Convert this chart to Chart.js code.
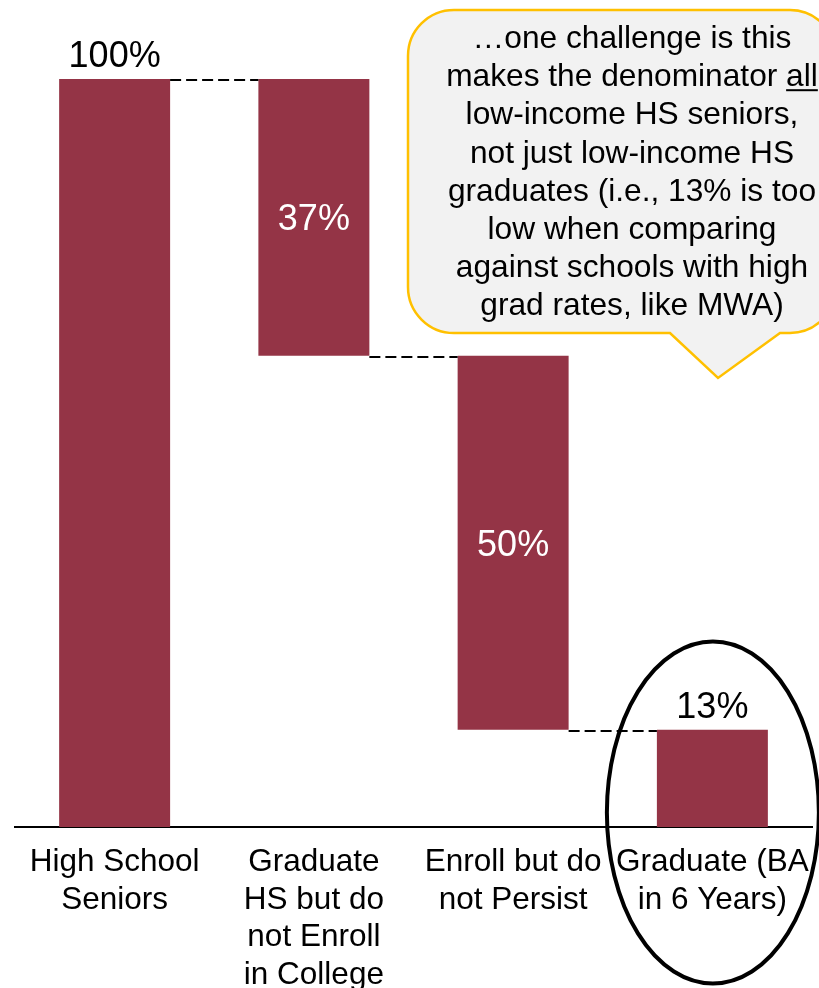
<!DOCTYPE html>
<html lang="en">
<head>
    <meta charset="UTF-8">
    <title>Low-Income Student Pipeline</title>
    <script src="https://cdn.jsdelivr.net/npm/chart.js"></script>
    <style>
        body { margin: 0; background: #fff; }
        #wrap { width: 819px; height: 988px; }
    </style>
</head>
<body>
    <div id="wrap"><canvas id="waterfall" width="819" height="988"></canvas></div>

    <script>
        // pipeline steps
        const categories = [
            ['High School', 'Seniors'],
            ['Graduate', 'HS but do', 'not Enroll', 'in College'],
            ['Enroll but do', 'not Persist'],
            ['Graduate (BA', 'in 6 Years)']
        ];
        const values = [100, 37, 50, 13];
        const kinds = ['total', 'drop', 'drop', 'total'];
        const valueLabels = ['100%', '37%', '50%', '13%'];

        const calloutLines = [
            '\u2026one challenge is this',
            'makes the denominator all',
            'low-income HS seniors,',
            'not just low-income HS',
            'graduates (i.e., 13% is too',
            'low when comparing',
            'against schools with high',
            'grad rates, like MWA)'
        ];

        const FONT = '"Liberation Sans", Arial, sans-serif';
        const BAR = '#943446';

        // floating ranges for the waterfall + the level left after each step
        const ranges = [];
        const levels = [];
        let level = 0;
        values.forEach((v, i) => {
            if (kinds[i] === 'total') {
                ranges.push([0, v]);
                level = v;
            } else {
                ranges.push([level - v, level]);
                level -= v;
            }
            levels.push(level);
        });

        const extras = {
            id: 'extras',
            afterDatasetsDraw(chart) {
                const ctx = chart.ctx;
                const y = chart.scales.y;
                const bars = chart.getDatasetMeta(0).data;

                ctx.save();

                // dashed connectors between bars
                ctx.strokeStyle = '#000';
                ctx.lineWidth = 2;
                ctx.setLineDash([11, 5]);
                for (let i = 0; i < bars.length - 1; i++) {
                    const yy = Math.round(y.getPixelForValue(levels[i])) + 1;
                    ctx.beginPath();
                    ctx.moveTo(bars[i].x + bars[i].width / 2, yy);
                    ctx.lineTo(bars[i + 1].x - bars[i + 1].width / 2, yy);
                    ctx.stroke();
                }
                ctx.setLineDash([]);

                // value labels
                ctx.font = '36px ' + FONT;
                ctx.textAlign = 'center';
                ctx.textBaseline = 'alphabetic';
                bars.forEach((b, i) => {
                    const top = y.getPixelForValue(ranges[i][1]);
                    const bot = y.getPixelForValue(ranges[i][0]);
                    if (kinds[i] === 'total') {
                        ctx.fillStyle = '#000';
                        ctx.fillText(valueLabels[i], b.x, top - 12);
                    } else {
                        ctx.fillStyle = '#fff';
                        ctx.fillText(valueLabels[i], b.x, (top + bot) / 2 + 13);
                    }
                });

                // category labels under the axis
                ctx.fillStyle = '#000';
                ctx.font = '31.5px ' + FONT;
                const base = chart.chartArea.bottom + 44;
                categories.forEach((lines, i) => {
                    const cx = chart.scales.x.getPixelForValue(i);
                    lines.forEach((t, j) => ctx.fillText(t, cx, base + j * 37.7));
                });

                // speech bubble
                const L = 408, T = 10, R = 836, B = 333, r = 46;
                ctx.beginPath();
                ctx.moveTo(L + r, T);
                ctx.lineTo(R - r, T);
                ctx.arcTo(R, T, R, T + r, r);
                ctx.lineTo(R, B - r);
                ctx.arcTo(R, B, R - r, B, r);
                ctx.lineTo(780, B);
                ctx.lineTo(718, 378);
                ctx.lineTo(670, B);
                ctx.lineTo(L + r, B);
                ctx.arcTo(L, B, L, B - r, r);
                ctx.lineTo(L, T + r);
                ctx.arcTo(L, T, L + r, T, r);
                ctx.closePath();
                ctx.fillStyle = '#f2f2f2';
                ctx.fill();
                ctx.strokeStyle = '#ffc000';
                ctx.lineWidth = 2.5;
                ctx.stroke();

                ctx.fillStyle = '#000';
                ctx.font = '31.7px ' + FONT;
                const tx = 632;
                calloutLines.forEach((t, j) => {
                    const by = 48 + j * 38.2;
                    ctx.fillText(t, tx, by);
                    if (j === 1) {
                        // underline the word "all"
                        const w = ctx.measureText(t).width;
                        const wa = ctx.measureText('all').width;
                        const x1 = tx + w / 2 - wa;
                        ctx.fillRect(x1, by + 3, wa, 2);
                    }
                });

                // highlight ring around the last step
                const last = bars[bars.length - 1];
                ctx.beginPath();
                ctx.ellipse(last.x + 0.5, 812.5, 106, 171, 0, 0, Math.PI * 2);
                ctx.strokeStyle = '#000';
                ctx.lineWidth = 4;
                ctx.stroke();

                ctx.restore();
            }
        };

        new Chart(document.getElementById('waterfall').getContext('2d'), {
            type: 'bar',
            data: {
                labels: categories,
                datasets: [{
                    data: ranges,
                    backgroundColor: BAR,
                    borderWidth: 0,
                    barPercentage: 0.557,
                    categoryPercentage: 1
                }]
            },
            options: {
                responsive: false,
                animation: false,
                layout: { padding: { left: 15, right: 7, top: 79, bottom: 161 } },
                plugins: { legend: { display: false }, tooltip: { enabled: false } },
                scales: {
                    x: {
                        grid: { display: false, drawTicks: false },
                        border: { display: true, color: '#000', width: 2 },
                        ticks: { display: false }
                    },
                    y: { display: false, min: 0, max: 100 }
                }
            },
            plugins: [extras]
        });
    </script>
</body>
</html>
